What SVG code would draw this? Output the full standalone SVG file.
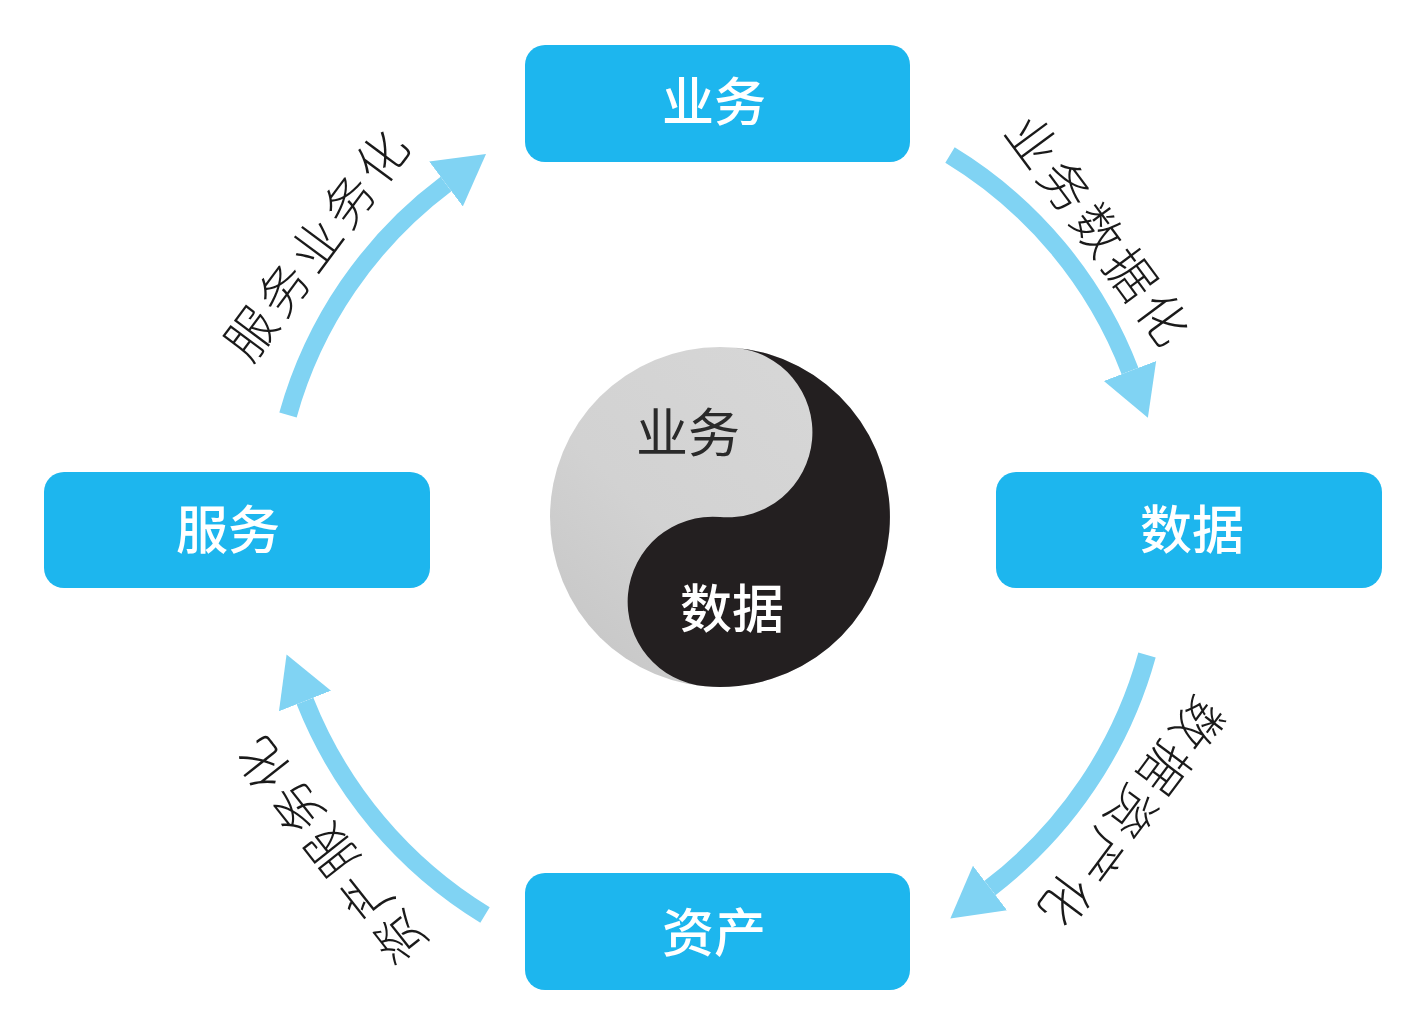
<svg xmlns="http://www.w3.org/2000/svg" width="1404" height="1020" viewBox="0 0 1404 1020">
  <style>
    .box { fill: #1db6ee; }
    .boxlabel { fill: #ffffff; font-family: "Noto Sans CJK SC", "Noto Sans", sans-serif; font-size: 52px; font-weight: 500; text-anchor: middle; dominant-baseline: central; }
    .shaft { fill: none; stroke: #80d3f3; stroke-width: 18; stroke-linecap: butt; }
    .arclabel { fill: #1a1a1a; font-family: "Noto Sans CJK SC", "Noto Sans", sans-serif; font-size: 50px; font-weight: 300; letter-spacing: 5px; text-anchor: middle; dominant-baseline: central; }
    .yylabel { font-family: "Noto Sans CJK SC", "Noto Sans", sans-serif; font-size: 52px; text-anchor: middle; dominant-baseline: central; }
  </style>
  <defs>
    <marker id="head" viewBox="0 -30 52 60" refX="0" refY="0" markerWidth="52" markerHeight="60" markerUnits="userSpaceOnUse" orient="auto">
      <path d="M0,-28 L50,0 L0,28 Z" fill="#80d3f3"/>
    </marker>
    <linearGradient id="greyShade" x1="1" y1="0" x2="0" y2="1">
      <stop offset="0" stop-color="#d8d8d8"/>
      <stop offset="0.6" stop-color="#d2d2d2"/>
      <stop offset="1" stop-color="#c4c4c4"/>
    </linearGradient>
  </defs>
  <rect width="1404" height="1020" fill="#ffffff"/>

  <g id="connectors">
    <path class="shaft" d="M288,415 A435,435 0 0 1 446,184" marker-end="url(#head)"/>
    <path class="shaft" d="M950,155 A435,435 0 0 1 1130,371" marker-end="url(#head)"/>
    <path class="shaft" d="M1147,655 A442,442 0 0 1 990,888" marker-end="url(#head)"/>
    <path class="shaft" d="M485,915 A442,442 0 0 1 305,701" marker-end="url(#head)"/>
    <text class="arclabel" transform="translate(315,241) rotate(-53.4)">服务业务化</text>
    <text class="arclabel" transform="translate(1102,230) rotate(53.5)">业务数据化</text>
    <text class="arclabel" transform="translate(1133,816) rotate(126.8)">数据资产化</text>
    <text class="arclabel" transform="translate(327,851) rotate(231.7)">资产服务化</text>
  </g>

  <g id="node-yewu">
    <rect class="box" x="525" y="45" width="385" height="117" rx="20"/>
    <text class="boxlabel" x="714" y="98">业务</text>
  </g>
  <g id="node-fuwu">
    <rect class="box" x="44" y="472" width="386" height="116" rx="20"/>
    <text class="boxlabel" x="228" y="526">服务</text>
  </g>
  <g id="node-shuju">
    <rect class="box" x="996" y="472" width="386" height="116" rx="20"/>
    <text class="boxlabel" x="1192" y="526">数据</text>
  </g>
  <g id="node-zichan">
    <rect class="box" x="525" y="873" width="385" height="117" rx="20"/>
    <text class="boxlabel" x="714" y="929">资产</text>
  </g>

  <g id="node-yinyang">
    <circle cx="720" cy="517" r="170" fill="url(#greyShade)"/>
    <path transform="rotate(5,720,517)" d="M720,347 A85,85 0 0 1 720,517 A85,85 0 0 0 720,687 A170,170 0 0 0 720,347 Z" fill="#231f20"/>
    <text class="yylabel" x="688" y="429" fill="#2a2a2a">业务</text>
    <text class="yylabel" x="732" y="605" fill="#ffffff" font-weight="500">数据</text>
  </g>
</svg>
